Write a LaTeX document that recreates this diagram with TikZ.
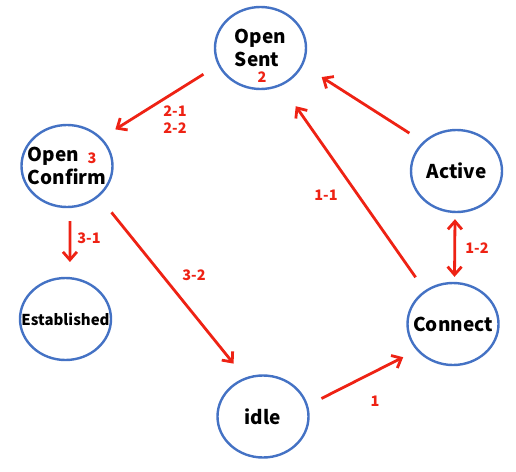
\documentclass[tikz,border=0pt]{standalone}
\usepackage{fontspec}
\setmainfont{Noto Sans CJK SC}
\usetikzlibrary{shapes.geometric,arrows.meta}
\definecolor{stateblue}{RGB}{68,114,196}
\definecolor{arrowred}{RGB}{238,34,20}
\begin{document}
\begin{tikzpicture}[x=1pt,y=-1pt,
	>={Straight Barb[length=8pt,width=14pt]},
	state/.style={ellipse,draw=stateblue,line width=2.4pt,minimum width=91pt,minimum height=82pt,inner xsep=-15pt,inner ysep=0pt,align=left,font=\fontsize{19}{23}\selectfont\bfseries},
	trans/.style={draw=arrowred,line width=2.8pt,->},
	num/.style={text=arrowred,inner sep=0pt,align=center,font=\fontsize{14.5}{17}\selectfont\bfseries}]
	\useasboundingbox (0,0) rectangle (516,471);
	\node[state] (sent) at (260.5,48) {Open\\Sent};
	\node[state] (confirm) at (67,166) {Open\\Confirm};
	\node[state] (active) at (456.5,171) {Active};
	\node[state,font=\fontsize{15}{18}\selectfont\bfseries] (estab) at (65.5,319) {Established};
	\node[state] (conn) at (453,324) {Connect};
	\node[state] (idle) at (263,416.5) {idle};
	\node[num] (n2) at (262,77) {2};
	\node[num] (n3) at (92,158) {3};
	\draw[trans,shorten <=15pt,shorten >=15pt] (idle.14) -- (conn.216);
	\draw[trans,shorten <=16pt,shorten >=25pt] (conn.130) -- (sent.299);
	\draw[trans,<->,shorten <=6pt,shorten >=5pt] (active.-92) -- (conn.88);
	\draw[trans,shorten <=16pt,shorten >=22pt] (active.139) -- (sent.338);
	\draw[trans,shorten <=17pt,shorten >=16pt] (sent.202) -- (confirm.39);
	\draw[trans,shorten <=13pt,shorten >=15pt] (confirm.-86) -- (estab.84);
	\draw[trans,shorten <=20pt,shorten >=18pt] (confirm.316) -- (idle.115);
	\node[num] (l1) at (375,401) {1};
	\node[num] (l11) at (326,195) {1-1};
	\node[num] (l12) at (477,248) {1-2};
	\node[num] (l2) at (175,120) {2-1\\2-2};
	\node[num] (l31) at (89,238) {3-1};
	\node[num] (l32) at (194,275) {3-2};
\end{tikzpicture}
\end{document}
